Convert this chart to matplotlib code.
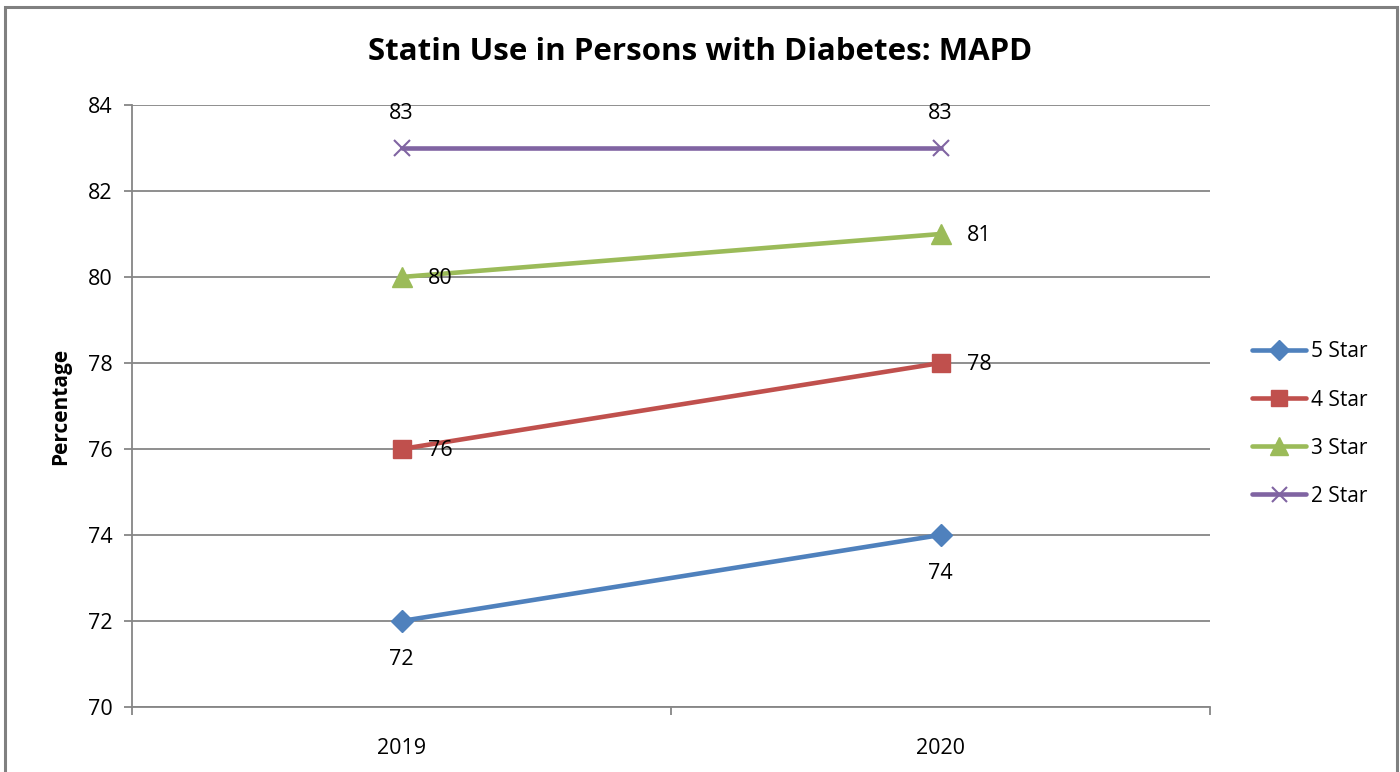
import matplotlib
matplotlib.use('Agg')
import matplotlib.pyplot as plt
from matplotlib.patches import Rectangle
from matplotlib.ticker import FixedLocator

plt.rcParams['font.family'] = ['Open Sans', 'DejaVu Sans']

# data
years = ['2019', '2020']
star5 = [72, 74]
star4 = [76, 78]
star3 = [80, 81]
star2 = [83, 83]

series = [
    ('5 Star', star5, '#4F81BD', 'D', 11, 'below'),
    ('4 Star', star4, '#C0504D', 's', 13, 'right'),
    ('3 Star', star3, '#9BBB59', '^', 14, 'right'),
    ('2 Star', star2, '#8064A2', 'x', 12, 'above'),
]

fig = plt.figure(figsize=(14, 7.72), dpi=100)
ax = fig.add_axes([132 / 1400, 1 - 707 / 772, 1078 / 1400, 602 / 772])

xs = list(range(len(years)))
for name, vals, col, mk, ms, pos in series:
    ax.plot(xs, vals, color=col, lw=3.3, marker=mk, markersize=ms,
            markerfacecolor=col, markeredgecolor=col, mew=1.5 if mk == 'x' else 1,
            label=name, solid_capstyle='round', zorder=3)
    for x, v in zip(xs, vals):
        if pos == 'below':
            ax.annotate(str(v), (x, v), xytext=(0, -28), textcoords='offset points',
                        ha='center', va='center', fontsize=15.5)
        elif pos == 'above':
            ax.annotate(str(v), (x, v), xytext=(0, 25), textcoords='offset points',
                        ha='center', va='center', fontsize=15.5)
        else:
            ax.annotate(str(v), (x, v), xytext=(19, -1), textcoords='offset points',
                        ha='left', va='center', fontsize=15.5)

ax.set_xlim(-0.5, 1.5)
ax.set_ylim(70, 84)
ax.set_yticks(range(70, 85, 2))
ax.set_xticks(xs)
ax.set_xticklabels(years)
ax.xaxis.set_minor_locator(FixedLocator([-0.5, 0.5, 1.5]))
ax.tick_params(axis='x', which='major', length=0, pad=22, labelsize=15.5)
ax.tick_params(axis='x', which='minor', length=6, width=1.3, color='#868686', direction='out')
ax.tick_params(axis='y', length=6, width=1.3, color='#868686', labelsize=15.5, pad=8)

ax.grid(axis='y', color='#868686', lw=1.3)
ax.set_axisbelow(True)
for s in ['top', 'right']:
    ax.spines[s].set_visible(False)
for s in ['left', 'bottom']:
    ax.spines[s].set_color('#868686')
    ax.spines[s].set_linewidth(1.3)

ax.set_ylabel('Percentage', fontsize=15, fontweight='bold', labelpad=12)
fig.text(0.5, 1 - 52 / 772, 'Statin Use in Persons with Diabetes: MAPD',
         ha='center', va='center', fontsize=22.5, fontweight='bold')

ax.legend(loc='center left', bbox_to_anchor=(1.0315, 0.47), frameon=False,
          fontsize=15, handlelength=2.6, handletextpad=0.2, labelspacing=1.3,
          borderaxespad=0, markerscale=0.9)

# outer chart border
fig.patches.append(Rectangle((5 / 1400, -0.05), 1392 / 1400, 1.05 - 7 / 772,
                             transform=fig.transFigure, fill=False,
                             edgecolor='#808080', lw=2.2))

fig.savefig('out.png', dpi=100)
